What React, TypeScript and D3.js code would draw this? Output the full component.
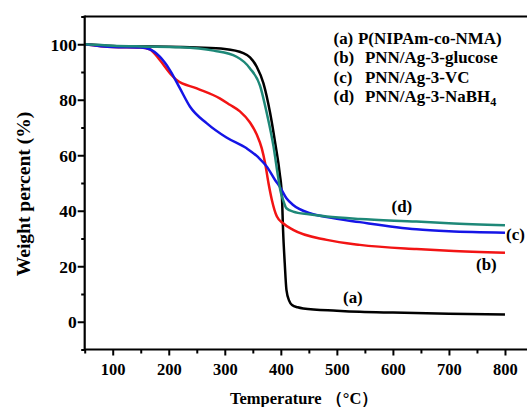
import React, { useEffect, useRef } from 'react';
import * as d3 from 'd3';

// temperature (°C), weight percent (%)
const seriesA: [number, number][] = [
  [50, 100], [100, 99.4], [150, 99.2], [200, 99.1], [250, 98.8], [300, 98.3], [333, 96.8],
  [345, 95.3], [357, 91.9], [369, 85.9], [381, 75.1], [390, 64.3], [398, 53.5], [402, 45],
  [404, 33], [407, 21], [410, 11.5], [415, 7.5], [420, 6], [430, 5.2], [440, 4.8], [500, 4],
  [541, 3.6], [600, 3.3], [700, 2.9], [800, 2.6],
];
const seriesB: [number, number][] = [
  [50, 100], [100, 99], [150, 98.8], [166, 98.2], [184, 94.3], [202, 89.6], [214, 87.1],
  [250, 84.1], [291, 80.5], [309, 78.2], [327, 75.8], [345, 71.8], [357, 67.5], [366, 62.5],
  [372, 57.1], [378, 49.9], [384, 43.9], [393, 37.9], [404, 35.5], [422, 33.1], [482, 29.5],
  [541, 27.7], [642, 26.2], [700, 25.6], [800, 24.9],
];
const seriesC: [number, number][] = [
  [50, 100], [100, 99], [150, 98.8], [166, 98.2], [184, 95.5], [202, 90.7], [220, 84.1],
  [238, 77.5], [268, 71.5], [303, 66.4], [339, 62.5], [360, 59.2], [375, 55.9], [390, 51],
  [398, 48.7], [410, 44.5], [422, 42.1], [452, 39.1], [482, 37.7], [541, 35.9], [642, 33.3],
  [700, 32.6], [800, 32.1],
];
const seriesD: [number, number][] = [
  [50, 100], [100, 99.5], [150, 99.2], [220, 98.9], [280, 97.7], [321, 95.5], [345, 91.3],
  [363, 85], [375, 75.1], [387, 63.1], [395, 52.3], [399, 47.5], [404, 43.9], [410, 40.9],
  [422, 39.7], [450, 38.7], [482, 37.9], [541, 37], [642, 36.1], [700, 35.5], [800, 34.8],
];

const xTicks = [100, 200, 300, 400, 500, 600, 700, 800];
const xMinorTicks = [50, 150, 250, 350, 450, 550, 650, 750, 850];
const yTicks = [0, 20, 40, 60, 80, 100];
const yMinorTicks = [-10, 10, 30, 50, 70, 90, 110];

const legendKeys = ['(a)', '(b)', '(c)', '(d)'];
const legendNames = ['P(NIPAm-co-NMA)', 'PNN/Ag-3-glucose', 'PNN/Ag-3-VC', 'PNN/Ag-3-NaBH'];
const curveLabels = ['(a)', '(b)', '(c)', '(d)'];

const colors = ['#000000', '#f21414', '#1515e6', '#1e8878'];

const font = '"Liberation Serif", "Times New Roman", serif';

function App() {
  const width = 527;
  const height = 407;
  const xAxisRef = useRef<SVGGElement>(null);
  const yAxisRef = useRef<SVGGElement>(null);

  const x = d3.scaleLinear().domain([50, 850]).range([84.7, 533]);
  const y = d3.scaleLinear().domain([-10, 110]).range([349.5, 16.5]);

  const myLine = d3.line<[number, number]>()
    .x(d => x(d[0]))
    .y(d => y(d[1]))
    .curve(d3.curveMonotoneX);

  useEffect(() => {
    const gx = d3.select(xAxisRef.current);
    gx.selectAll('*').remove();
    gx.append('g').call(d3.axisBottom(x).tickValues(xMinorTicks).tickSize(4).tickFormat(() => ''));
    gx.append('g').call(d3.axisBottom(x).tickValues(xTicks).tickSize(6).tickFormat(d3.format('d')));
    gx.selectAll('.domain').remove();
    gx.selectAll('line').attr('stroke', '#000').attr('stroke-width', 2);
    gx.selectAll('text')
      .attr('y', 25.5).attr('dy', null)
      .attr('font-family', font).attr('font-weight', 'bold').attr('font-size', 16.5)
      .attr('fill', '#000');

    const gy = d3.select(yAxisRef.current);
    gy.selectAll('*').remove();
    gy.append('g').call(d3.axisLeft(y).tickValues(yMinorTicks).tickSize(3.5).tickFormat(() => ''));
    gy.append('g').call(d3.axisLeft(y).tickValues(yTicks).tickSize(7).tickFormat(d3.format('d')));
    gy.selectAll('.domain').remove();
    gy.selectAll('line').attr('stroke', '#000').attr('stroke-width', 2);
    gy.selectAll('text')
      .attr('x', -8).attr('dy', '0.34em')
      .attr('font-family', font).attr('font-weight', 'bold').attr('font-size', 17.5)
      .attr('fill', '#000');
  }, []);

  const series = [seriesA, seriesB, seriesC, seriesD];
  const x0 = x.range()[0];
  const yBottom = y.range()[0];
  const yTop = y.range()[1];

  // label anchors: [x, y] in pixels, by curve
  const labelPos: [number, number][] = [[343, 303], [476, 270], [506, 240], [391.5, 212]];
  const stretch = 1.06;

  return (
    <svg width={width} height={height} style={{ position: 'absolute', left: 0, top: 0, background: '#fff' }}>
      <rect width={width} height={height} fill="#fff" />
      {series.map((s, i) => (
        <path key={i} d={myLine(s) ?? ''} fill="none" stroke={colors[i]} strokeWidth={2.5} strokeLinejoin="round" />
      ))}
      <g ref={xAxisRef} transform={`translate(0, ${yBottom})`} />
      <g ref={yAxisRef} transform={`translate(${x0}, 0)`} />
      <line x1={x0} x2={width} y1={yBottom} y2={yBottom} stroke="#000" strokeWidth={2.2} />
      <line x1={x0} x2={x0} y1={yTop - 1} y2={yBottom + 1} stroke="#000" strokeWidth={2.2} />
      <line x1={x0} x2={width} y1={yTop} y2={yTop} stroke="#000" strokeWidth={2.2} />

      <g fontFamily={font} fontWeight="bold" fontSize={16} fill="#000">
        {legendKeys.map((k, i) => (
          <g key={k}>
            <text transform={`translate(333.5, ${44 + i * 19.3}) scale(${stretch}, 1)`}>{k}</text>
            <text transform={`translate(${i === 0 ? 358 : 365}, ${44 + i * 19.3}) scale(${stretch}, 1)`}>
              {legendNames[i]}
              {i === 3 && <tspan fontSize={11.5} dy={4}>4</tspan>}
            </text>
          </g>
        ))}
        {curveLabels.map((c, i) => (
          <text key={c} transform={`translate(${labelPos[i][0]}, ${labelPos[i][1]}) scale(${stretch}, 1)`}>{c}</text>
        ))}
      </g>

      <text
        transform={`translate(29.5, 194) rotate(-90)`}
        textAnchor="middle"
        fontFamily={font}
        fontWeight="bold"
        fontSize={19.5}
      >
        Weight percent (%)
      </text>
      <text x={230} y={403.5} fontFamily={font} fontWeight="bold" fontSize={16.5}>
        Temperature （°C）
      </text>
    </svg>
  );
}

export default App;
